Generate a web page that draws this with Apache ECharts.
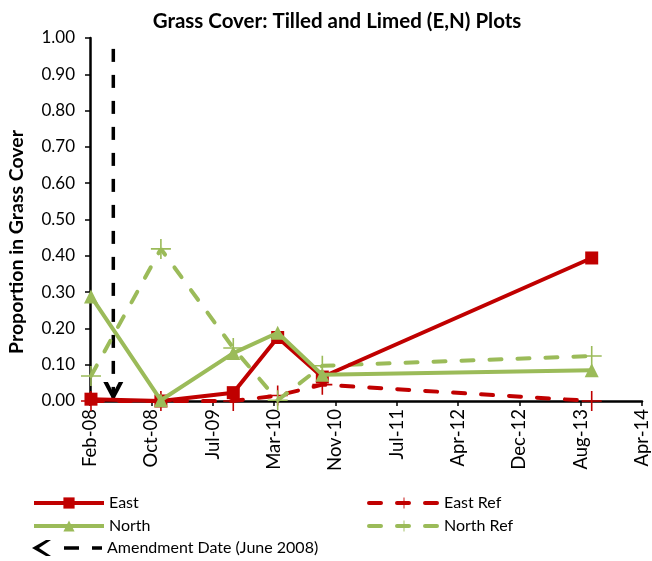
<!DOCTYPE html>
<html><head><meta charset="utf-8">
<script src="https://cdn.jsdelivr.net/npm/echarts@6/dist/echarts.min.js"></script>
<style>html,body{margin:0;padding:0;background:#fff}#c{width:652px;height:561px}</style>
</head><body><div id="c"></div>
<script>
// ---- data ----
const sampleDates = ['2008-02-27','2008-12-08','2009-09-29','2010-03-29','2010-09-27','2013-09-29'];
const east     = [0.005, 0.000, 0.023, 0.175, 0.066, 0.394];
const north    = [0.288, 0.002, 0.132, 0.188, 0.072, 0.085];
const eastRef  = [0.000, 0.000, 0.000, 0.015, 0.045, 0.000];
const northRef = [0.069, 0.419, 0.146, 0.002, 0.097, 0.124];
const amendmentDate = '2008-05-28';
const amendmentTop = 0.97;
const axisStartDate = '2008-02-23';
const axisSpanDays = 2250;
const tickStepDays = 250;
const monthNames = ['Jan','Feb','Mar','Apr','May','Jun','Jul','Aug','Sep','Oct','Nov','Dec'];

const DAY = 86400000;
const t0 = Date.parse(axisStartDate + 'T00:00:00Z');
const toDay = s => Math.round((Date.parse(s + 'T00:00:00Z') - t0) / DAY);
const fmt = v => { const d = new Date(t0 + v * DAY); return monthNames[d.getUTCMonth()] + '-' + String(d.getUTCFullYear() % 100).padStart(2, '0'); };
const pairs = vals => sampleDates.map((s, i) => [toDay(s), vals[i]]);

const RED = '#C00000', GREEN = '#9BBB59';
const FONT = 'Lato';
const plus = 'path://M0,9.2 H20 V10.8 H0 Z M9.2,0 H10.8 V20 H9.2 Z';
const chevronDown = 'path://M0,0 L4.6,0 L10,8.2 L15.4,0 L20,0 L10,15 Z';
const amendIcon = 'path://M0,8 L14,0 L19,0 L7,8 L19,16 L14,16 Z M32,6.2 H47 V9.8 H32 Z M60,6.2 H70 V9.8 H60 Z';
const dash = [12, 16];

const legendBase = {orient: 'horizontal', itemWidth: 70, itemHeight: 14, padding: 0,
  textStyle: {fontFamily: FONT, fontSize: 16, color: '#000'}, lineStyle: {width: 4}};
const mkLegend = (left, cy, item) => Object.assign({}, legendBase, {left: left, top: cy - 7, data: [item]});

const chart = echarts.init(document.getElementById('c'), null, {renderer: 'canvas'});
const ad = toDay(amendmentDate);
chart.setOption({
  animation: false,
  backgroundColor: '#fff',
  title: {
    text: 'Grass Cover: Tilled and Limed (E,N) Plots',
    left: 332, top: 6, textAlign: 'center',
    textStyle: {fontFamily: FONT, fontWeight: 'bold', fontSize: 20.5, color: '#000'}
  },
  graphic: [{
    type: 'text', x: 17, y: 242, rotation: Math.PI / 2,
    style: {text: 'Proportion in Grass Cover', align: 'center', verticalAlign: 'middle',
      fontFamily: FONT, fontWeight: 'bold', fontSize: 19.5, fill: '#000'}
  }],
  grid: {left: 90, right: 10, top: 38, bottom: 160, containLabel: false},
  xAxis: {
    type: 'value', min: 0, max: axisSpanDays, interval: tickStepDays,
    axisLine: {onZero: false, lineStyle: {color: '#000', width: 2.5}},
    axisTick: {show: true, length: 5, lineStyle: {color: '#000', width: 1.5}},
    splitLine: {show: false},
    axisLabel: {rotate: 90, formatter: fmt, fontFamily: FONT, fontSize: 18.5, color: '#000', margin: 8}
  },
  yAxis: {
    type: 'value', min: 0, max: 1, interval: 0.1,
    axisLine: {show: true, lineStyle: {color: '#000', width: 2.5}},
    axisTick: {show: true, length: 5, lineStyle: {color: '#000', width: 1.5}},
    splitLine: {show: false},
    axisLabel: {formatter: v => v.toFixed(2), fontFamily: FONT, fontSize: 17, color: '#000', margin: 15}
  },
  legend: [
    mkLegend(32, 502, 'East'),
    mkLegend(32, 525, 'North'),
    Object.assign(mkLegend(32, 548, {name: 'Amendment Date (June 2008)', icon: amendIcon, itemStyle: {color: '#000'}}), {itemHeight: 16, top: 540}),
    mkLegend(367, 502, 'East Ref'),
    mkLegend(367, 525, 'North Ref')
  ],
  series: [
    {
      name: 'Amendment Date (June 2008)', type: 'line', z: 1,
      data: [
        {value: [ad, amendmentTop], symbol: 'none'},
        {value: [ad, 0], symbol: chevronDown, symbolSize: [20, 19], symbolOffset: [0, '-50%']}
      ],
      lineStyle: {color: '#000', width: 3.5, type: [13, 13], cap: 'butt'},
      itemStyle: {color: '#000'}
    },
    {
      name: 'East Ref', type: 'line', data: pairs(eastRef), z: 2,
      symbol: plus, symbolSize: 20,
      lineStyle: {color: RED, width: 4, type: dash, cap: 'round'},
      itemStyle: {color: RED}
    },
    {
      name: 'North Ref', type: 'line', data: pairs(northRef), z: 3,
      symbol: plus, symbolSize: 20,
      lineStyle: {color: GREEN, width: 4, type: dash, cap: 'round'},
      itemStyle: {color: GREEN}
    },
    {
      name: 'East', type: 'line', data: pairs(east), z: 4,
      symbol: 'rect', symbolSize: 13,
      lineStyle: {color: RED, width: 4},
      itemStyle: {color: RED}
    },
    {
      name: 'North', type: 'line', data: pairs(north), z: 5,
      symbol: 'triangle', symbolSize: 14,
      lineStyle: {color: GREEN, width: 4},
      itemStyle: {color: GREEN}
    }
  ]
});
</script></body></html>
